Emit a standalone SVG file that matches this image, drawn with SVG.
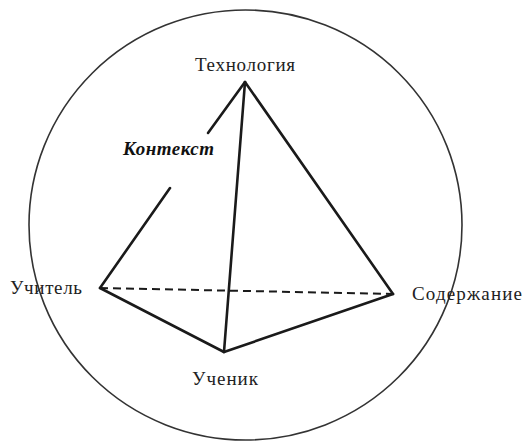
<svg xmlns="http://www.w3.org/2000/svg" width="523" height="441" viewBox="0 0 523 441">
<style>
.lbl{font-family:"Liberation Serif","Times New Roman",serif;font-size:19px;fill:#222}
.ctx{font-family:"Liberation Serif","Times New Roman",serif;font-size:19px;font-weight:bold;font-style:italic;fill:#111}
.edge{stroke:#1a1a1a;stroke-width:2.6;fill:none;stroke-linecap:round}
.dash{stroke:#1a1a1a;stroke-width:2;fill:none;stroke-dasharray:8,5}
</style>
<rect width="523" height="441" fill="#fff"/>
<g id="context-circle">
<ellipse cx="245.5" cy="225" rx="216.5" ry="215" fill="none" stroke="#333" stroke-width="1.6"/>
<text class="ctx" x="123" y="155" textLength="91">Контекст</text>
</g>
<g id="connectors">
<line class="dash" x1="100" y1="288" x2="393" y2="294"/>
<line class="edge" x1="245" y1="82" x2="208" y2="133"/>
<line class="edge" x1="170" y1="188" x2="100" y2="288"/>
<line class="edge" x1="245" y1="82" x2="224" y2="352"/>
<line class="edge" x1="245" y1="82" x2="393" y2="294"/>
<line class="edge" x1="100" y1="288" x2="224" y2="352"/>
<line class="edge" x1="224" y1="352" x2="393" y2="294"/>
</g>
<g id="node-technology"><text class="lbl" x="195" y="71" textLength="100">Технология</text></g>
<g id="node-teacher"><text class="lbl" x="10" y="294" textLength="72">Учитель</text></g>
<g id="node-content"><text class="lbl" x="412" y="300" textLength="110">Содержание</text></g>
<g id="node-student"><text class="lbl" x="192" y="385" textLength="66">Ученик</text></g>
</svg>
